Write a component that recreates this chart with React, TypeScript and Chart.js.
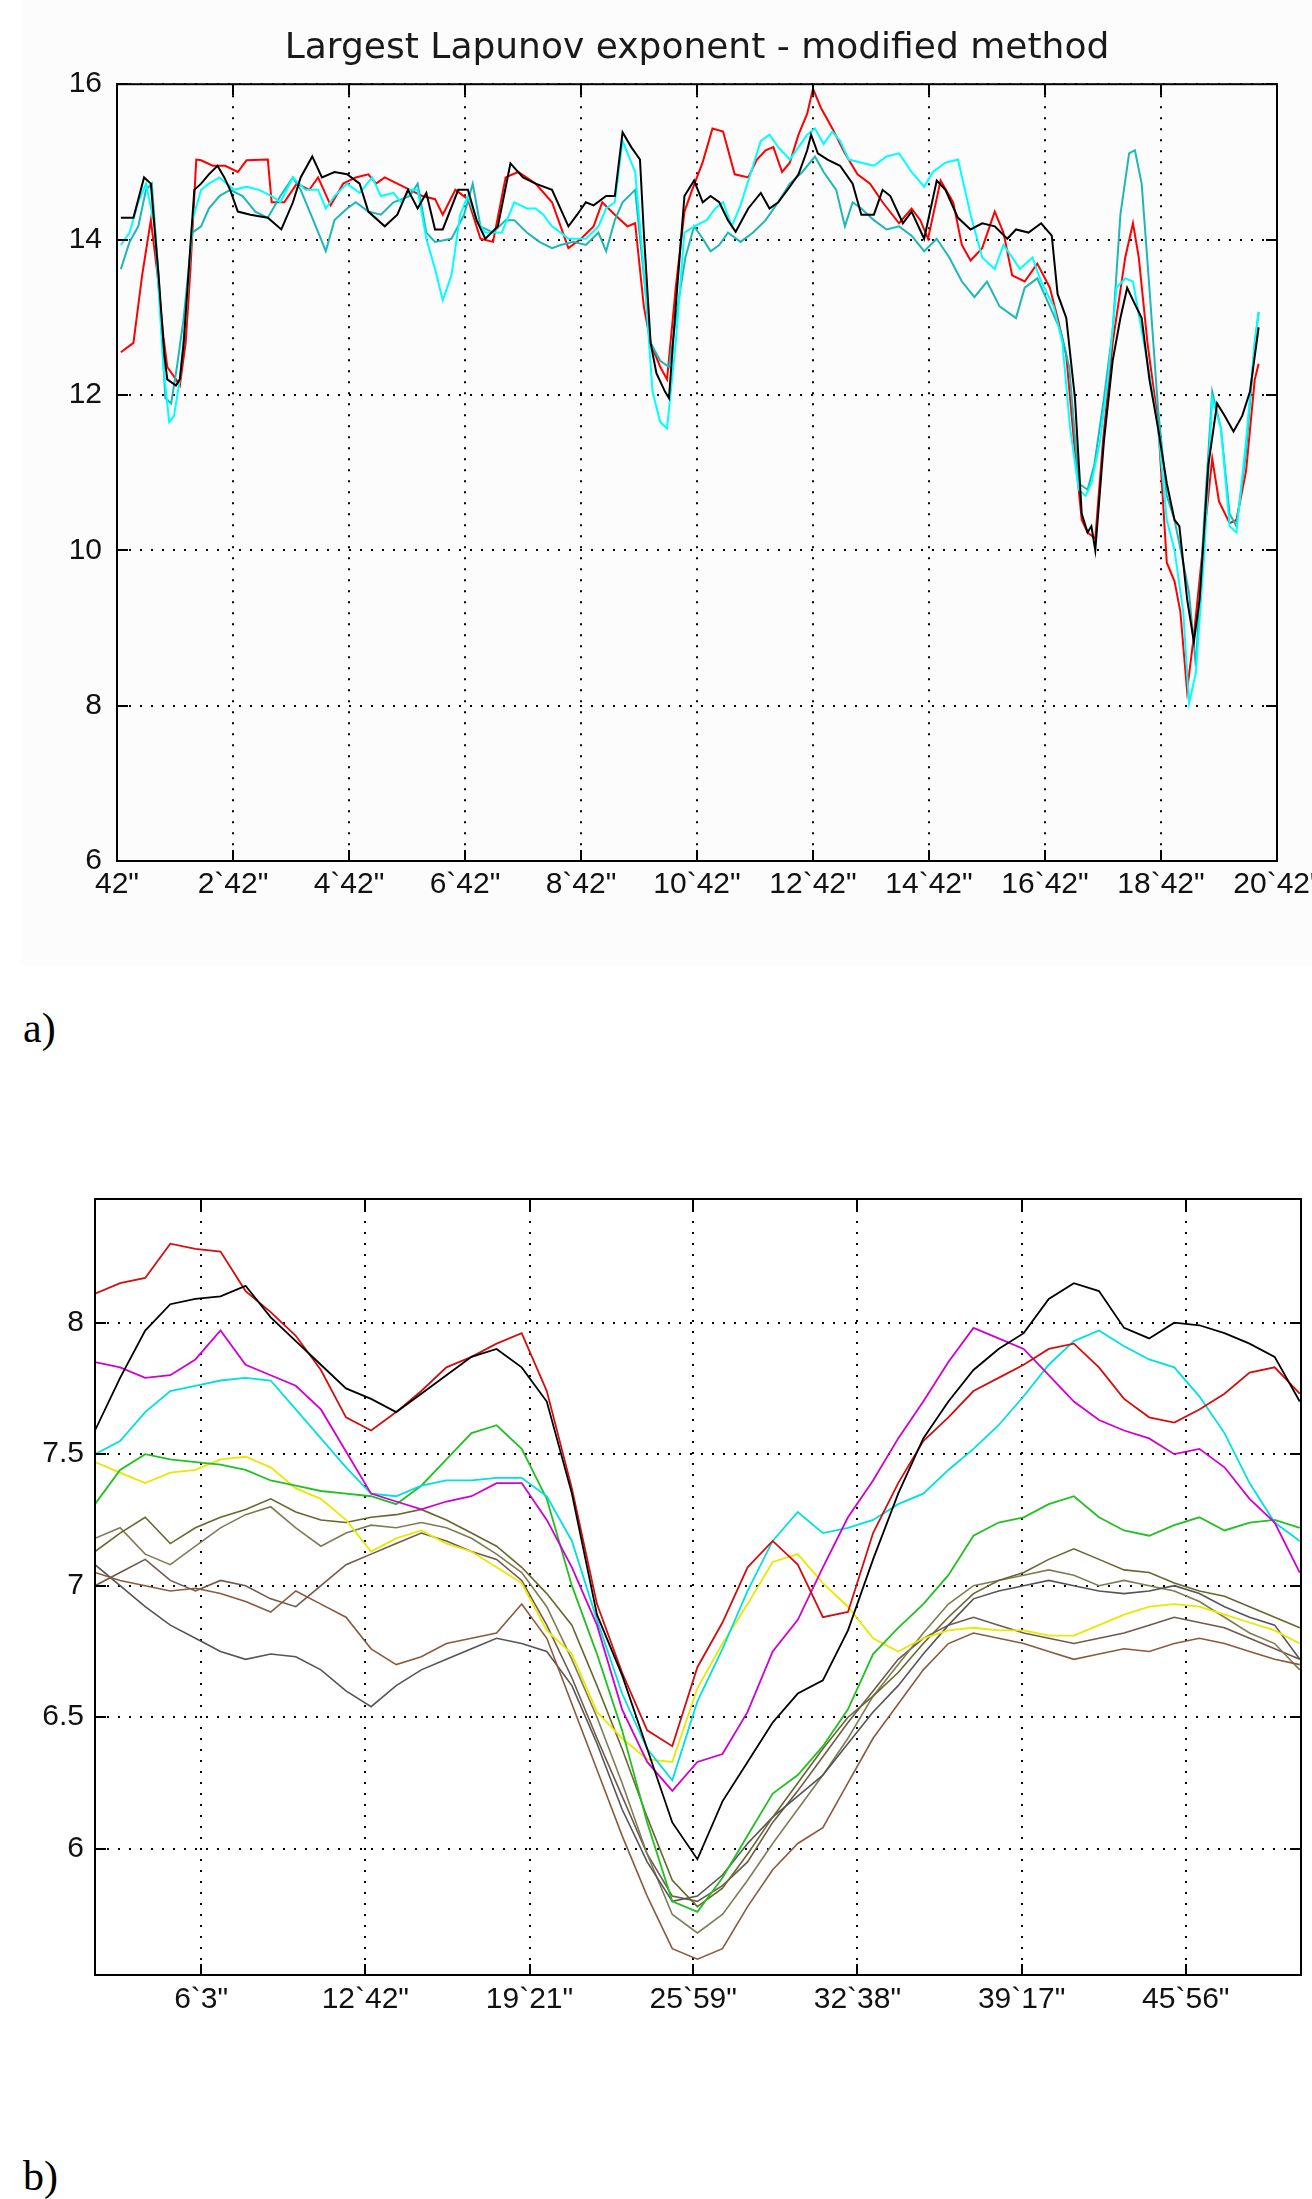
import React, { useEffect, useRef } from "react";
import { Chart, registerables } from "chart.js";

Chart.register(...registerables);

// ---------------- Top chart (a) ----------------
const topTitle = "Largest Lapunov exponent - modified method";
const topXTicks = [42, 162, 282, 402, 522, 642, 762, 882, 1002, 1122, 1242];
const topXLabels = ['42"', '2`42"', '4`42"', '6`42"', '8`42"', '10`42"', '12`42"', '14`42"', '16`42"', '18`42"', '20`42"'];
const topYTicks = [6, 8, 10, 12, 14, 16];
const topYLabels = ["6", "8", "10", "12", "14", "16"];

// [time (s), exponent]
const topBlack = [
  [46,14.28],[59,14.28],[70,14.80],[77,14.72],[85,13.54],[91,12.51],[94,12.20],[103,12.12],[107,12.20],[111,12.67],
  [118,13.93],[122,14.64],[129,14.72],[137,14.84],[146,14.95],[153,14.80],[159,14.64],[167,14.36],[180,14.32],[198,14.28],
  [212,14.13],[224,14.48],[232,14.80],[244,15.07],[254,14.80],[267,14.87],[280,14.84],[293,14.72],[302,14.36],[319,14.17],
  [332,14.32],[343,14.64],[353,14.40],[362,14.60],[371,14.13],[379,14.13],[395,14.64],[405,14.64],[414,14.25],[423,14.01],
  [436,14.17],[449,14.98],[462,14.80],[475,14.72],[492,14.64],[509,14.17],[518,14.32],[527,14.48],[535,14.44],[548,14.56],
  [557,14.56],[565,15.38],[574,15.19],[583,15.03],[587,14.09],[594,12.67],[600,12.28],[609,12.04],[613,11.96],[620,13.14],
  [629,14.56],[639,14.76],[648,14.48],[656,14.56],[665,14.48],[674,14.25],[682,14.10],[695,14.40],[708,14.60],[717,14.40],
  [726,14.48],[738,14.68],[747,14.84],[756,15.15],[760,15.35],[767,15.11],[777,15.03],[790,14.95],[803,14.72],[812,14.32],
  [825,14.32],[834,14.64],[842,14.56],[855,14.21],[864,14.36],[877,14.01],[890,14.76],[899,14.64],[912,14.28],[925,14.13],
  [937,14.21],[950,14.17],[963,14.01],[972,14.13],[985,14.09],[998,14.21],[1009,14.05],[1015,13.30],[1024,12.99],[1033,11.96],
  [1040,10.47],[1046,10.23],[1050,10.31],[1054,10.00],[1063,11.41],[1072,12.44],[1080,12.99],[1087,13.38],[1093,13.22],[1102,12.99],
  [1110,12.20],[1119,11.57],[1128,10.86],[1136,10.39],[1141,10.31],[1149,9.37],[1156,8.82],[1162,9.37],[1171,11.10],[1180,11.89],
  [1188,11.73],[1197,11.53],[1206,11.73],[1214,12.04],[1223,12.87]
];
const topRed = [
  [46,12.55],[59,12.67],[68,13.54],[77,14.25],[84,13.54],[90,12.75],[94,12.36],[103,12.20],[107,12.12],[113,12.67],
  [118,13.62],[124,15.03],[129,15.02],[141,14.95],[154,14.95],[167,14.87],[176,15.02],[198,15.03],[202,14.48],[215,14.48],
  [228,14.72],[241,14.64],[250,14.80],[263,14.44],[276,14.72],[289,14.80],[302,14.84],[310,14.72],[319,14.80],[332,14.72],
  [345,14.64],[358,14.56],[371,14.52],[379,14.32],[392,14.64],[405,14.52],[418,14.01],[431,13.97],[444,14.80],[457,14.87],
  [475,14.72],[492,14.48],[509,13.89],[522,14.01],[535,14.17],[544,14.48],[557,14.32],[570,14.17],[578,14.21],[587,13.14],
  [594,12.67],[604,12.36],[611,12.20],[620,13.38],[629,14.36],[637,14.64],[648,15.00],[658,15.43],[669,15.39],[681,14.84],
  [695,14.80],[704,15.03],[713,15.15],[721,15.19],[730,14.87],[738,14.99],[747,15.35],[756,15.62],[762,15.94],[770,15.70],
  [782,15.43],[795,15.11],[808,14.84],[821,14.72],[834,14.48],[851,14.21],[864,14.40],[873,14.25],[881,14.01],[894,14.76],
  [907,14.48],[916,13.93],[925,13.73],[937,13.89],[950,14.36],[959,14.09],[968,13.54],[981,13.46],[994,13.69],[1007,13.38],
  [1015,12.99],[1024,12.51],[1033,11.26],[1040,10.39],[1046,10.23],[1054,10.15],[1062,11.41],[1072,12.67],[1085,13.77],[1093,14.21],
  [1099,13.77],[1108,12.67],[1119,11.65],[1128,9.84],[1136,9.60],[1142,9.21],[1149,8.19],[1156,8.90],[1165,10.00],[1175,11.18],
  [1182,10.63],[1193,10.35],[1200,10.39],[1210,11.02],[1219,12.20],[1223,12.40]
];
const topCyan = [
  [46,13.93],[55,14.09],[64,14.48],[72,14.72],[81,14.17],[90,12.36],[96,11.65],[101,11.73],[107,12.20],[113,12.99],
  [120,14.25],[129,14.64],[137,14.72],[148,14.80],[163,14.64],[176,14.68],[189,14.64],[202,14.56],[211,14.48],[224,14.80],
  [237,14.64],[250,14.64],[258,14.40],[267,14.56],[280,14.72],[293,14.60],[306,14.80],[315,14.56],[328,14.60],[336,14.48],
  [345,14.64],[353,14.64],[362,14.01],[371,13.62],[379,13.22],[388,13.54],[397,14.32],[405,14.56],[414,14.25],[423,14.09],
  [440,14.09],[453,14.48],[466,14.40],[475,14.40],[483,14.32],[492,14.17],[501,14.09],[509,14.01],[527,14.01],[540,14.17],
  [548,14.40],[557,14.48],[565,15.27],[578,14.87],[587,13.62],[596,12.04],[604,11.65],[611,11.57],[620,12.67],[629,14.09],
  [639,14.17],[652,14.25],[661,14.40],[669,14.48],[678,14.17],[687,14.44],[700,14.95],[708,15.27],[717,15.35],[726,15.19],
  [738,15.03],[747,15.19],[756,15.35],[764,15.43],[773,15.23],[782,15.39],[790,15.27],[799,15.03],[812,14.99],[825,14.95],
  [838,15.07],[851,15.11],[864,14.87],[877,14.68],[886,14.87],[899,14.99],[912,15.03],[925,14.32],[937,13.77],[950,13.62],
  [959,13.93],[968,13.77],[976,13.62],[989,13.77],[998,13.46],[1011,13.14],[1020,12.67],[1028,11.57],[1037,10.78],[1044,10.70],
  [1050,10.86],[1059,11.41],[1067,12.20],[1076,13.38],[1085,13.50],[1093,13.46],[1102,12.83],[1110,12.28],[1119,11.57],[1128,10.39],
  [1136,10.00],[1145,9.21],[1151,8.03],[1158,8.42],[1167,10.00],[1175,11.96],[1184,11.57],[1193,10.31],[1200,10.23],[1210,11.41],
  [1219,12.67],[1223,13.07]
];
const topTeal = [
  [46,13.62],[55,13.97],[64,14.17],[72,14.64],[78,14.72],[85,13.54],[92,11.96],[98,11.89],[104,12.36],[111,12.99],
  [120,14.09],[129,14.17],[137,14.40],[148,14.56],[159,14.64],[172,14.56],[185,14.36],[198,14.28],[211,14.56],[224,14.80],
  [232,14.64],[245,14.25],[258,13.85],[267,14.25],[280,14.40],[289,14.48],[302,14.36],[315,14.32],[328,14.48],[345,14.56],
  [353,14.72],[362,14.09],[371,13.97],[388,14.01],[401,14.32],[410,14.72],[418,14.17],[431,14.09],[444,14.25],[453,14.25],
  [466,14.09],[479,13.97],[492,13.89],[501,13.93],[514,13.97],[527,13.93],[540,14.09],[548,13.85],[557,14.25],[565,14.48],
  [578,14.64],[587,13.54],[594,12.67],[604,12.44],[613,12.36],[622,13.14],[630,13.77],[639,14.17],[648,14.01],[656,13.85],
  [665,13.93],[674,14.09],[687,13.97],[700,14.09],[713,14.25],[726,14.48],[738,14.72],[751,14.87],[764,15.07],[773,14.87],
  [786,14.64],[795,14.17],[803,14.48],[812,14.40],[825,14.25],[838,14.13],[851,14.17],[864,14.05],[877,13.85],[890,14.01],
  [903,13.77],[916,13.46],[929,13.26],[942,13.46],[955,13.14],[972,12.99],[981,13.38],[994,13.50],[1007,13.14],[1018,12.83],
  [1027,12.36],[1037,10.86],[1046,10.78],[1053,11.10],[1063,11.96],[1072,12.83],[1080,14.32],[1089,15.11],[1095,15.15],[1102,14.72],
  [1110,13.38],[1119,11.81],[1128,10.70],[1136,10.39],[1145,9.84],[1151,9.45],[1158,8.51],[1167,10.47],[1175,12.04],[1184,11.57],
  [1193,10.47],[1200,10.31],[1210,11.26],[1219,12.67],[1223,13.07]
];

// ---------------- Bottom chart (b) ----------------
const botTimes = [105,166,227,288,349,410,471,532,593,654,715,776,837,898,959,1020,1081,1142,1203,1264,1325,1386,1447,1508,1569,1630,1691,1752,1813,1874,1935,1996,2057,2118,2179,2240,2301,2362,2423,2484,2545,2606,2667,2728,2789,2850,2911,2972,3033];
const botXTicks = [363, 762, 1161, 1559, 1958, 2357, 2756];
const botXLabels = ['6`3"', '12`42"', '19`21"', '25`59"', '32`38"', '39`17"', '45`56"'];
const botYTicks = [6, 6.5, 7, 7.5, 8];
const botYLabels = ["6", "6.5", "7", "7.5", "8"];

const botRed = [8.11,8.15,8.17,8.30,8.28,8.27,8.12,8.04,7.95,7.82,7.64,7.59,7.66,7.74,7.83,7.87,7.92,7.96,7.74,7.37,6.93,6.67,6.45,6.39,6.69,6.86,7.07,7.17,7.08,6.88,6.90,7.20,7.39,7.55,7.64,7.74,7.79,7.84,7.90,7.92,7.83,7.71,7.64,7.62,7.67,7.73,7.81,7.83,7.73];
const botBlack = [7.59,7.79,7.97,8.07,8.09,8.10,8.14,8.02,7.93,7.84,7.75,7.71,7.66,7.73,7.80,7.87,7.90,7.83,7.70,7.35,6.89,6.66,6.38,6.10,5.96,6.18,6.33,6.48,6.59,6.64,6.83,7.10,7.35,7.56,7.70,7.82,7.90,7.96,8.09,8.15,8.12,7.98,7.94,8.00,7.99,7.96,7.92,7.87,7.70];
const botMagenta = [7.85,7.83,7.79,7.80,7.86,7.97,7.84,7.80,7.76,7.67,7.51,7.35,7.32,7.29,7.32,7.34,7.39,7.39,7.25,7.07,6.85,6.53,6.33,6.22,6.33,6.36,6.52,6.75,6.87,7.07,7.26,7.40,7.56,7.70,7.85,7.98,7.94,7.90,7.80,7.70,7.63,7.59,7.56,7.50,7.52,7.45,7.33,7.24,7.05];
const botCyan = [7.50,7.55,7.66,7.74,7.76,7.78,7.79,7.78,7.67,7.56,7.45,7.35,7.34,7.38,7.40,7.40,7.41,7.41,7.34,7.17,6.87,6.59,6.38,6.26,6.56,6.76,6.98,7.17,7.28,7.20,7.22,7.25,7.31,7.35,7.44,7.52,7.61,7.72,7.84,7.93,7.97,7.91,7.86,7.83,7.72,7.58,7.39,7.24,7.17];
const botGreen = [7.31,7.44,7.50,7.48,7.47,7.46,7.44,7.40,7.38,7.36,7.35,7.34,7.31,7.38,7.48,7.58,7.61,7.52,7.33,7.00,6.74,6.45,6.10,5.80,5.76,5.89,6.05,6.21,6.28,6.39,6.53,6.74,6.84,6.93,7.04,7.19,7.24,7.26,7.31,7.34,7.26,7.21,7.19,7.23,7.26,7.21,7.24,7.25,7.22];
const botYellow = [7.47,7.43,7.39,7.43,7.44,7.48,7.49,7.45,7.37,7.33,7.25,7.13,7.18,7.21,7.16,7.13,7.07,7.01,6.83,6.74,6.52,6.42,6.34,6.33,6.61,6.78,6.93,7.09,7.12,7.01,6.92,6.80,6.75,6.80,6.83,6.84,6.83,6.83,6.81,6.81,6.85,6.89,6.92,6.93,6.92,6.89,6.86,6.83,6.78];
const botOlive = [7.13,7.20,7.26,7.16,7.22,7.26,7.29,7.33,7.28,7.25,7.24,7.26,7.27,7.29,7.25,7.20,7.15,7.07,6.97,6.85,6.62,6.38,6.12,5.88,5.78,5.85,5.98,6.12,6.25,6.38,6.50,6.58,6.67,6.78,6.88,6.97,7.02,7.05,7.10,7.14,7.10,7.06,7.05,7.01,6.98,6.96,6.92,6.88,6.84];
const botBrown = [7.05,7.02,7.00,6.98,6.99,6.97,6.94,6.90,6.98,6.93,6.88,6.76,6.70,6.73,6.78,6.80,6.82,6.93,6.80,6.55,6.30,6.05,5.82,5.62,5.58,5.62,5.78,5.92,6.02,6.08,6.25,6.42,6.55,6.68,6.78,6.82,6.80,6.78,6.75,6.72,6.74,6.76,6.75,6.78,6.80,6.78,6.75,6.72,6.70];
const botGrey = [7.08,7.00,6.92,6.85,6.80,6.75,6.72,6.74,6.73,6.68,6.60,6.54,6.62,6.68,6.72,6.76,6.80,6.78,6.75,6.62,6.40,6.15,5.95,5.80,5.82,5.90,6.02,6.12,6.20,6.28,6.40,6.52,6.62,6.74,6.85,6.95,6.98,7.00,7.02,7.00,6.98,6.97,6.98,7.00,6.97,6.92,6.88,6.85,6.72];
const botKhaki = [7.18,7.22,7.12,7.08,7.15,7.22,7.27,7.30,7.22,7.15,7.20,7.23,7.22,7.24,7.22,7.18,7.12,7.05,6.92,6.72,6.50,6.25,5.98,5.75,5.68,5.75,5.88,6.02,6.15,6.28,6.42,6.58,6.70,6.82,6.93,7.00,7.02,7.04,7.06,7.04,7.00,7.02,7.00,6.98,6.94,6.88,6.82,6.78,6.68];
const botTaupe = [7.00,7.05,7.10,7.02,6.98,7.02,7.00,6.95,6.92,7.00,7.08,7.12,7.16,7.20,7.17,7.13,7.10,7.02,6.85,6.65,6.42,6.20,5.98,5.82,5.80,5.86,5.95,6.10,6.22,6.35,6.48,6.60,6.72,6.80,6.85,6.88,6.85,6.82,6.80,6.78,6.80,6.82,6.85,6.88,6.86,6.84,6.80,6.76,6.72];

const TICK_FONT = { family: "'Liberation Sans', Arial, sans-serif", size: 30, lineHeight: 1.2 };

const framePlugin = {
  id: "matlabFrame",
  afterDraw(chart: any) {
    const { ctx, chartArea: a, scales } = chart;
    const L = 11;
    ctx.save();
    ctx.strokeStyle = "#000";
    ctx.lineWidth = 2;
    ctx.setLineDash([]);
    ctx.beginPath();
    scales.x.ticks.forEach((t: any) => {
      const px = Math.round(scales.x.getPixelForValue(t.value));
      ctx.moveTo(px, a.bottom);
      ctx.lineTo(px, a.bottom - L);
      ctx.moveTo(px, a.top);
      ctx.lineTo(px, a.top + L);
    });
    scales.y.ticks.forEach((t: any) => {
      const py = Math.round(scales.y.getPixelForValue(t.value));
      ctx.moveTo(a.left, py);
      ctx.lineTo(a.left + L, py);
      ctx.moveTo(a.right, py);
      ctx.lineTo(a.right - L, py);
    });
    ctx.stroke();
    ctx.strokeRect(a.left, a.top, a.right - a.left, a.bottom - a.top);
    ctx.restore();
  },
};

function axisX(min: number, max: number, tickVals: number[], labels: string[], pad: number) {
  return {
    type: "linear",
    min,
    max,
    afterBuildTicks: (s: any) => { s.ticks = tickVals.map((v) => ({ value: v })); },
    afterFit: (s: any) => { s.height = 50; s.paddingLeft = 0; s.paddingRight = 0; },
    ticks: {
      autoSkip: false,
      maxRotation: 0,
      minRotation: 0,
      padding: pad,
      color: "#111",
      font: TICK_FONT,
      callback: (_v: any, i: number) => labels[i],
    },
    grid: { color: "#000", lineWidth: 2, drawTicks: false },
    border: { display: true, color: "#000", width: 2, dash: [2, 9] },
  };
}

function axisY(min: number, max: number, tickVals: number[], labels: string[], pad: number, width: number) {
  return {
    type: "linear",
    min,
    max,
    afterBuildTicks: (s: any) => { s.ticks = tickVals.map((v) => ({ value: v })); },
    afterFit: (s: any) => { s.width = width; s.paddingTop = 0; s.paddingBottom = 0; },
    ticks: {
      autoSkip: false,
      padding: pad,
      color: "#111",
      font: TICK_FONT,
      callback: (_v: any, i: number) => labels[i],
    },
    grid: { color: "#000", lineWidth: 2, drawTicks: false },
    border: { display: true, color: "#000", width: 2, dash: [2, 9] },
  };
}

function lineDs(label: string, data: any[], color: string, width: number) {
  return {
    label,
    data,
    borderColor: color,
    backgroundColor: color,
    borderWidth: width,
    pointRadius: 0,
    tension: 0,
    fill: false,
  };
}

const pairs = (arr: number[][]) => arr.map(([x, y]) => ({ x, y }));

function makeTopConfig(): any {
  return {
    type: "line",
    data: {
      datasets: [
        lineDs("black", pairs(topBlack), "#000000", 2),
        lineDs("cyan", pairs(topCyan), "#00ffff", 2),
        lineDs("teal", pairs(topTeal), "#1fb6b6", 2),
        lineDs("red", pairs(topRed), "#ff0000", 2),
      ],
    },
    options: {
      responsive: false,
      animation: false,
      layout: { padding: { left: 0, right: 35, top: 0, bottom: 19 } },
      plugins: {
        legend: { display: false },
        tooltip: { enabled: false },
        title: {
          display: true,
          fullSize: false,
          text: topTitle,
          color: "#1a1a1a",
          font: { family: "'DejaVu Sans', sans-serif", size: 36, weight: "normal", lineHeight: 1.2 },
          padding: { top: 27, bottom: 14 },
        },
      },
      scales: {
        x: axisX(42, 1242, topXTicks, topXLabels, 6),
        y: axisY(6, 16, topYTicks, topYLabels, 15, 117),
      },
    },
    plugins: [framePlugin],
  };
}

function makeBottomConfig(): any {
  const mk = (vals: number[]) => vals.map((v, i) => ({ x: botTimes[i], y: v }));
  return {
    type: "line",
    data: {
      datasets: [
        lineDs("black", mk(botBlack), "#000000", 1.8),
        lineDs("red", mk(botRed), "#d01010", 1.8),
        lineDs("magenta", mk(botMagenta), "#d000d0", 1.8),
        lineDs("cyan", mk(botCyan), "#00e0e0", 1.8),
        lineDs("green", mk(botGreen), "#22c022", 1.8),
        lineDs("yellow", mk(botYellow), "#e8e800", 1.8),
        lineDs("olive", mk(botOlive), "#67672f", 1.6),
        lineDs("brown", mk(botBrown), "#8b5a3c", 1.6),
        lineDs("grey", mk(botGrey), "#555555", 1.6),
        lineDs("khaki", mk(botKhaki), "#7e7c55", 1.6),
        lineDs("taupe", mk(botTaupe), "#6e5a4a", 1.6),
      ],
    },
    options: {
      responsive: false,
      animation: false,
      layout: { padding: { left: 0, right: 11, top: 49, bottom: 5 } },
      plugins: {
        legend: { display: false },
        tooltip: { enabled: false },
        title: { display: false },
      },
      scales: {
        x: axisX(105, 3036, botXTicks, botXLabels, 7),
        y: axisY(5.52, 8.47, botYTicks, botYLabels, 11, 95),
      },
    },
    plugins: [framePlugin],
  };
}

function ChartCanvas({ make, width, height, top }: { make: () => any; width: number; height: number; top: number }) {
  const ref = useRef<HTMLCanvasElement>(null);
  useEffect(() => {
    const chart = new Chart(ref.current as HTMLCanvasElement, make());
    return () => chart.destroy();
  }, []);
  return (
    <canvas
      ref={ref}
      width={width}
      height={height}
      style={{ position: "absolute", left: 0, top, width, height }}
    />
  );
}

const panelLabel: React.CSSProperties = {
  position: "absolute",
  left: 23,
  fontFamily: "'Liberation Serif', 'Times New Roman', serif",
  fontSize: 42,
  lineHeight: "42px",
  color: "#000",
};

export default function App() {
  return (
    <div style={{ position: "absolute", left: 0, top: 0, width: 1312, height: 2199, background: "#ffffff", overflow: "hidden" }}>
      <div style={{ position: "absolute", left: 22, top: 0, width: 1290, height: 965, background: "#fcfcfc" }} />
      <ChartCanvas make={makeTopConfig} width={1312} height={930} top={0} />
      <div style={{ ...panelLabel, top: 1007 }}>a)</div>
      <ChartCanvas make={makeBottomConfig} width={1312} height={880} top={1150} />
      <div style={{ ...panelLabel, top: 2155 }}>b)</div>
    </div>
  );
}
